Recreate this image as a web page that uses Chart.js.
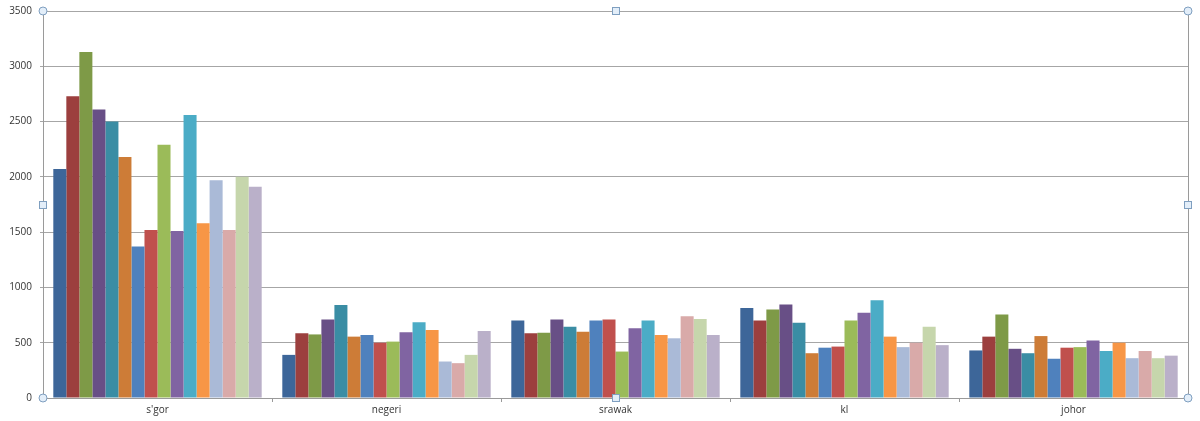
<!DOCTYPE html>
<html>
<head>
<meta charset="utf-8">
<script src="https://cdn.jsdelivr.net/npm/chart.js@4"></script>
<style>
  html, body { margin: 0; padding: 0; background: #fff; }
  #wrap { width: 1200px; height: 421px; }
</style>
</head>
<body>
<div id="wrap"><canvas id="myChart" width="1200" height="421"></canvas></div>
<script>
const categories = ["s'gor", "negeri", "srawak", "kl", "johor"];

// 16 series, one value per category
const s1 = [2070, 390, 700, 815, 430];
const s2 = [2730, 585, 585, 700, 555];
const s3 = [3130, 575, 590, 800, 755];
const s4 = [2610, 710, 710, 845, 445];
const s5 = [2500, 840, 645, 680, 405];
const s6 = [2180, 555, 600, 405, 560];
const s7 = [1370, 570, 700, 455, 355];
const s8 = [1520, 500, 710, 465, 455];
const s9 = [2290, 510, 420, 700, 460];
const s10 = [1510, 595, 630, 770, 520];
const s11 = [2560, 685, 700, 885, 425];
const s12 = [1580, 615, 570, 555, 500];
const s13 = [1970, 330, 540, 460, 360];
const s14 = [1520, 315, 740, 500, 425];
const s15 = [2000, 390, 715, 645, 360];
const s16 = [1910, 605, 570, 478, 383];

const yTicks = [0, 500, 1000, 1500, 2000, 2500, 3000, 3500];

const seriesValues = [s1, s2, s3, s4, s5, s6, s7, s8, s9, s10, s11, s12, s13, s14, s15, s16];
const seriesColors = [
  "#3D6699", "#9C3F3E", "#7E9A47", "#684F86", "#3A8DA4", "#CD7C37",
  "#4F81BD", "#C0504D", "#9BBB59", "#8064A2", "#4BACC6", "#F79646",
  "#AABAD7", "#D9AAA9", "#C6D6AC", "#BAB0C9"
];

// selection handles around the plot area
const handlesPlugin = {
  id: "handles",
  afterDraw(chart) {
    const { ctx, chartArea: a } = chart;
    ctx.save();
    // right border of plot area
    ctx.strokeStyle = "#9a9a9a";
    ctx.lineWidth = 1;
    ctx.beginPath();
    ctx.moveTo(Math.round(a.right) + 0.5, a.top);
    ctx.lineTo(Math.round(a.right) + 0.5, a.bottom);
    ctx.stroke();

    const midX = (a.left + a.right) / 2;
    const midY = (a.top + a.bottom) / 2;
    ctx.fillStyle = "#e3eef9";
    ctx.strokeStyle = "#7f9fc0";
    [[a.left, a.top], [a.right, a.top], [a.left, a.bottom], [a.right, a.bottom]].forEach(([x, y]) => {
      ctx.beginPath();
      ctx.arc(x, y, 4, 0, Math.PI * 2);
      ctx.fill();
      ctx.stroke();
    });
    [[midX, a.top], [midX, a.bottom], [a.left, midY], [a.right, midY]].forEach(([x, y]) => {
      ctx.fillRect(Math.round(x) - 3.5, Math.round(y) - 3.5, 7, 7);
      ctx.strokeRect(Math.round(x) - 3.5, Math.round(y) - 3.5, 7, 7);
    });
    ctx.restore();
  }
};

const ctx = document.getElementById("myChart").getContext("2d");
const chart = new Chart(ctx, {
  type: "bar",
  data: {
    labels: categories,
    datasets: seriesValues.map((vals, i) => ({
      label: "Series " + (i + 1),
      data: vals,
      backgroundColor: seriesColors[i],
      borderWidth: 0,
      barPercentage: 1.0,
      categoryPercentage: 0.91
    }))
  },
  options: {
    responsive: false,
    animation: false,
    layout: { padding: { top: 11, right: 12, left: 0, bottom: 0 } },
    plugins: {
      legend: { display: false },
      tooltip: { enabled: false }
    },
    scales: {
      x: {
        grid: {
          display: true,
          drawOnChartArea: false,
          tickLength: 4,
          color: "#9a9a9a"
        },
        border: { color: "#9a9a9a" },
        ticks: {
          color: "#333",
          font: { family: "Open Sans", size: 10 },
          padding: 2
        },
        afterFit(scale) { scale.height = 23; }
      },
      y: {
        min: 0,
        max: 3500,
        afterBuildTicks(scale) { scale.ticks = yTicks.map(v => ({ value: v })); },
        grid: { color: "#a6a6a6", tickLength: 3 },
        border: { color: "#9a9a9a" },
        ticks: {
          color: "#333",
          font: { family: "Open Sans", size: 10 },
          padding: 8,
          callback: v => String(v)
        },
        afterFit(scale) {
          scale.width = 43;
          scale.paddingTop = 0;
          scale.paddingBottom = 0;
        }
      }
    }
  },
  plugins: [handlesPlugin]
});
</script>
</body>
</html>
